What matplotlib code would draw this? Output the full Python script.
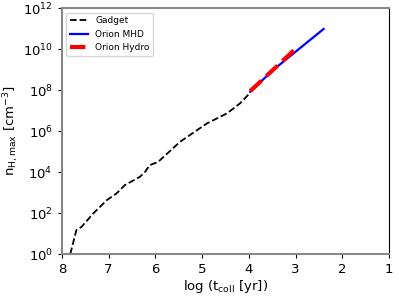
import numpy as np
import matplotlib
matplotlib.use('Agg')
import matplotlib.pyplot as plt

# Gadget (SPH) run: log collapse time vs log peak density
gadget_logt = [7.82, 7.69, 7.58, 7.33, 7.04, 6.83, 6.65, 6.33, 6.22, 6.12,
               5.94, 5.47, 4.90, 4.47, 4.19, 3.97]
gadget_logn = [0.0, 1.17, 1.33, 1.98, 2.63, 2.96, 3.37, 3.77, 4.01, 4.34,
               4.50, 5.48, 6.37, 6.86, 7.35, 7.87]

# Orion runs
mhd_logt = [3.97, 3.48, 2.40]
mhd_logn = [7.92, 8.98, 10.98]

hydro_logt = [3.97, 3.50, 3.10, 2.94]
hydro_logn = [7.95, 8.95, 9.80, 10.18]

fig, ax = plt.subplots(figsize=(3.99, 2.99), dpi=100)

ax.plot(gadget_logt, 10**np.array(gadget_logn), 'k--', lw=1.3, label='Gadget')
ax.plot(mhd_logt, 10**np.array(mhd_logn), color='blue', lw=1.6, label='Orion MHD')
ax.plot(hydro_logt, 10**np.array(hydro_logn), color='red', ls='--', lw=3,
        label='Orion Hydro')

ax.set_yscale('log')
ax.set_xlim(8, 1)
ax.set_ylim(1e0, 1e12)
ax.set_yticks([1e0, 1e2, 1e4, 1e6, 1e8, 1e10, 1e12])
ax.minorticks_off()
ax.set_xlabel(r'log (t$_{\rm coll}$ [yr])', fontsize=9.5, labelpad=1)
ax.set_ylabel(r'n$_{\rm H,max}$ [cm$^{-3}$]', fontsize=9.5, labelpad=1)
ax.tick_params(labelsize=9.5, length=3)

for side in ['left', 'bottom', 'top']:
    ax.spines[side].set_color('#888888')
    ax.spines[side].set_linewidth(1.5)
ax.spines['right'].set_color('black')

ax.legend(loc='upper left', fontsize=6.5)

plt.subplots_adjust(left=0.155, right=0.975, top=0.973, bottom=0.15)
plt.savefig('out.png', dpi=100)
